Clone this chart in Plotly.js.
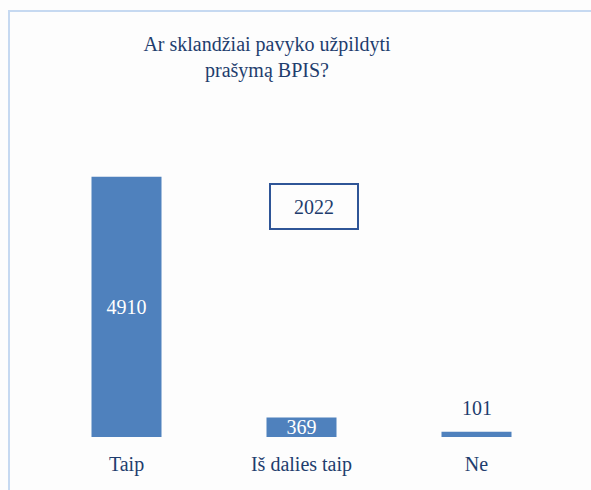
<!DOCTYPE html>
<html>
<head>
<meta charset="utf-8">
<script src="https://cdn.plot.ly/plotly-3.0.1.min.js"></script>
</head>
<body style="margin:0;background:#fdfdfd">
<div style="position:absolute;left:8px;top:10px;width:600px;height:500px;border-top:2px solid #c6d9f1;border-left:2px solid #c6d9f1;box-sizing:border-box;pointer-events:none"></div>
<div id="chart" style="position:relative"></div>
<script>
const categories = ["Taip", "Iš dalies taip", "Ne"];
const values = [4910, 369, 101];
const insideLabel = [true, true, false];
const yearLabel = "2022";
const titleText = "Ar sklandžiai pavyko užpildyti<br>prašymą BPIS?";

const SERIF = "Liberation Serif";
const TEXTCOLOR = "#1f3d6e";

const trace = {
  type: "bar",
  x: categories,
  y: values,
  text: values.map((v, i) => insideLabel[i] ? String(v) : ""),
  textposition: "inside",
  insidetextanchor: "middle",
  constraintext: "none",
  textfont: {family: SERIF, size: 20, color: "#ffffff"},
  marker: {color: "#4f81bd"},
  width: 0.4
};

const outsideAnn = categories.map((c, i) => insideLabel[i] ? null : {
  text: String(values[i]), x: c, y: values[i], xref: "x", yref: "y",
  xanchor: "center", yanchor: "bottom", yshift: 11, showarrow: false,
  font: {family: SERIF, size: 20, color: TEXTCOLOR}
}).filter(a => a);

const layout = {
  width: 591, height: 490,
  margin: {l: 39, r: 27, t: 119, b: 53},
  paper_bgcolor: "rgba(0,0,0,0)",
  plot_bgcolor: "rgba(0,0,0,0)",
  showlegend: false,
  font: {family: SERIF, size: 20, color: TEXTCOLOR},
  title: {
    text: titleText,
    font: {family: SERIF, size: 20, color: TEXTCOLOR},
    xref: "container", x: 267/591, xanchor: "center",
    yref: "container", y: 1 - 51/490, yanchor: "top"
  },
  xaxis: {
    type: "category",
    showgrid: false, zeroline: false,
    ticks: "", ticklabelstandoff: 13,
    tickfont: {family: SERIF, size: 20, color: TEXTCOLOR}
  },
  yaxis: {range: [0, 6000], visible: false},
  annotations: [
    {text: yearLabel, xref: "paper", yref: "paper", x: 0.5238, y: 0.7248,
     xanchor: "center", yanchor: "middle", showarrow: false,
     font: {family: SERIF, size: 20, color: TEXTCOLOR},
     bordercolor: "#2f5597", borderwidth: 2, borderpad: 0,
     width: 86, height: 43}
  ].concat(outsideAnn)
};

Plotly.newPlot("chart", [trace], layout, {staticPlot: true});
</script>
</body>
</html>
